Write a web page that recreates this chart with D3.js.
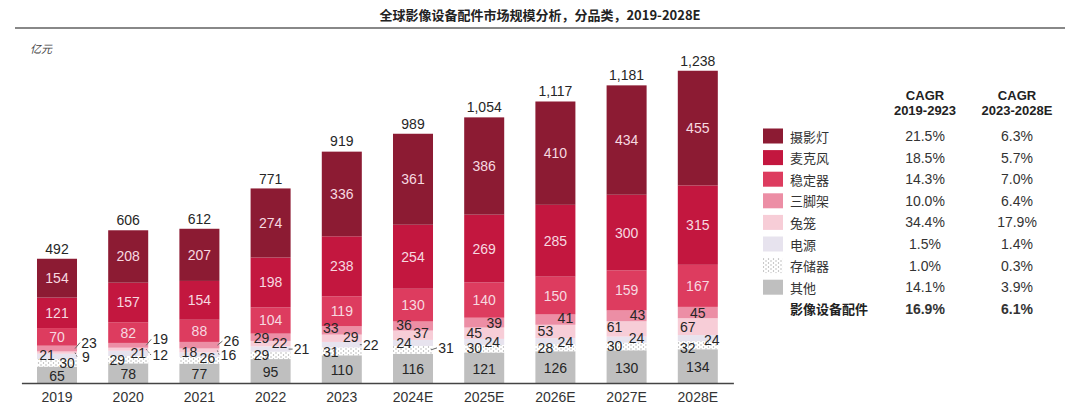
<!DOCTYPE html>
<html>
<head>
<meta charset="utf-8">
<script src="https://cdn.jsdelivr.net/npm/d3@7"></script>
<style>
  body { margin: 0; background: #fff; }
  svg { font-family: "Liberation Sans", Arial, sans-serif; }
  .cjk { font-family: "Noto Sans CJK SC", sans-serif; }
</style>
</head>
<body>
<svg id="chart" width="1080" height="410"></svg>
<script>
// data
const years = ['2019', '2020', '2021', '2022', '2023', '2024E', '2025E', '2026E', '2027E', '2028E']
const seriesNames = ['摄影灯', '麦克风', '稳定器', '三脚架', '兔笼', '电源', '存储器', '其他']
const lights   = [154, 208, 207, 274, 336, 361, 386, 410, 434, 455]
const mics     = [121, 157, 154, 198, 238, 254, 269, 285, 300, 315]
const gimbals  = [70, 82, 88, 104, 119, 130, 140, 150, 159, 167]
const tripods  = [23, 19, 26, 29, 33, 36, 39, 41, 43, 45]
const cages    = [9, 12, 16, 22, 29, 37, 45, 53, 61, 67]
const power    = [21, 21, 18, 21, 22, 24, 24, 24, 24, 24]
const storage  = [30, 29, 26, 29, 31, 31, 30, 28, 30, 32]
const others   = [65, 78, 77, 95, 110, 116, 121, 126, 130, 134]
const totals   = [492, 606, 612, 771, 919, 989, 1054, 1117, 1181, 1238]
const cagr1923 = ['21.5%', '18.5%', '14.3%', '10.0%', '34.4%', '1.5%', '1.0%', '14.1%', '16.9%']
const cagr2328 = ['6.3%', '5.7%', '7.0%', '6.4%', '17.9%', '1.4%', '0.3%', '3.9%', '6.1%']

const valuesBySeries = [lights, mics, gimbals, tripods, cages, power, storage, others]

const colors = {
    '摄影灯': '#8c1b33',
    '麦克风': '#c3173f',
    '稳定器': '#dd3c5f',
    '三脚架': '#ec8ea5',
    '兔笼': '#f7cdd7',
    '电源': '#e7e3ee',
    '存储器': 'url(#dots)',
    '其他': '#bfbfbf'
}

// where the small-segment labels sit: [dx from bar centre, dy from segment middle, leader line]
const smallLabelPos = {
    '三脚架': [[32,-6,1],[32,-6,1],[32,-4,1],[-9,1,0],[-11,-2,0],[-9,-1,0],[10,0,0],[10,-2,0],[11,-1,0],[0,0,0]],
    '兔笼':   [[29,4,1],[32,6,1],[29,5,1],[9,-1,0],[9,-1,0],[8,-2,0],[-10,0,0],[-10,0,0],[-12,-2,0],[-10,0,0]],
    '电源':   [[-10,-1,0],[10,0,0],[-10,-3,0],[31,0,1],[29,0,1],[-9,0,0],[8,0,0],[10,1,0],[10,-2,0],[14,2,0]],
    '存储器': [[10,0,0],[-11,0,0],[8,-2,0],[-9,0,0],[-11,1,0],[33,-2,1],[-10,-1,0],[-10,0,0],[-12,0,0],[-10,3,0]]
}

let table = years.map((y, i) => {
    let row = { year: y }
    seriesNames.forEach((s, k) => row[s] = valuesBySeries[k][i])
    return row
})

const svg = d3.select('#chart')

// dotted fill for 存储器
let pat = svg.append('defs').append('pattern')
    .attr('id', 'dots')
    .attr('width', 5).attr('height', 4)
    .attr('patternUnits', 'userSpaceOnUse')
pat.append('rect').attr('width', 5).attr('height', 4).attr('fill', '#fff')
pat.append('circle').attr('cx', 1).attr('cy', 1).attr('r', 0.7).attr('fill', '#aaa')
pat.append('circle').attr('cx', 3.5).attr('cy', 3).attr('r', 0.7).attr('fill', '#aaa')

// title
svg.append('text')
    .attr('class', 'cjk')
    .attr('x', 540).attr('y', 20)
    .attr('text-anchor', 'middle')
    .attr('font-size', 13).attr('font-weight', 'bold')
    .attr('fill', '#222')
    .text('全球影像设备配件市场规模分析，分品类，2019-2028E')

svg.append('line')
    .attr('x1', 15).attr('x2', 1065)
    .attr('y1', 28).attr('y2', 28)
    .attr('stroke', '#888').attr('stroke-width', 2)

svg.append('text')
    .attr('class', 'cjk')
    .attr('x', 30).attr('y', 53)
    .attr('font-size', 11).attr('font-style', 'italic')
    .attr('fill', '#444')
    .text('亿元')

const xScale = d3.scaleBand()
    .domain(years)
    .range([21.4, 733.4])
    .paddingInner(0.438)
    .paddingOuter(0.219)

const yScale = d3.scaleLinear()
    .domain([0, d3.max(totals)])
    .range([383, 71])

const stack = d3.stack().keys(seriesNames.slice().reverse())
const layers = stack(table)

let g = svg.append('g')

g.selectAll('g.layer')
    .data(layers)
    .enter()
    .append('g')
        .attr('class', 'layer')
        .attr('fill', d => colors[d.key])
    .selectAll('rect')
    .data(d => d)
    .enter()
    .append('rect')
        .attr('x', d => xScale(d.data.year))
        .attr('y', d => yScale(d[1]))
        .attr('width', xScale.bandwidth())
        .attr('height', d => yScale(d[0]) - yScale(d[1]))

// x-axis
let xAxis = svg.append('g')
    .attr('transform', 'translate(0, 383)')
    .call(d3.axisBottom(xScale).tickSize(0).tickPadding(9))
xAxis.select('.domain').attr('stroke', '#444').attr('stroke-width', 1.5)
xAxis.selectAll('text')
    .attr('font-size', 14)
    .attr('font-family', '"Liberation Sans", Arial, sans-serif')
    .attr('fill', '#333')

// labels
let labels = svg.append('g').attr('font-size', 14)

layers.forEach(layer => {
    const key = layer.key
    layer.forEach((d, i) => {
        const cx = xScale(d.data.year) + xScale.bandwidth() / 2
        const mid = (yScale(d[0]) + yScale(d[1])) / 2
        const val = d.data[key]
        if (smallLabelPos[key]) {
            const [dx, dy, leader] = smallLabelPos[key][i]
            const lx = cx + dx, ly = mid + dy
            if (leader) {
                labels.append('line')
                    .attr('x1', cx + xScale.bandwidth() / 2 - 2).attr('y1', mid)
                    .attr('x2', lx - 9).attr('y2', ly)
                    .attr('stroke', '#666').attr('stroke-width', 1)
                    .attr('stroke-dasharray', dy > 0 ? '1.5,1.5' : null)
            }
            labels.append('text')
                .attr('x', lx).attr('y', ly)
                .attr('text-anchor', 'middle')
                .attr('dominant-baseline', 'central')
                .attr('fill', '#262626')
                .text(val)
        } else {
            labels.append('text')
                .attr('x', cx).attr('y', key == '其他' ? mid + 1 : mid)
                .attr('text-anchor', 'middle')
                .attr('dominant-baseline', 'central')
                .attr('fill', key == '其他' ? '#262626' : '#f7d9e0')
                .text(val)
        }
    })
})

// totals above the bars
labels.selectAll('text.total')
    .data(totals)
    .enter()
    .append('text')
        .attr('class', 'total')
        .attr('x', (d, i) => xScale(years[i]) + xScale.bandwidth() / 2)
        .attr('y', d => yScale(d) - 10)
        .attr('text-anchor', 'middle')
        .attr('dominant-baseline', 'central')
        .attr('fill', '#262626')
        .text(d => d3.format(',')(d))

// legend + CAGR table
let legend = svg.append('g')
const rowY = i => 136 + i * 21.6

legend.selectAll('text.head')
    .data([[925, 'CAGR'], [925, '2019-2923'], [1017, 'CAGR'], [1017, '2023-2028E']])
    .enter()
    .append('text')
        .attr('x', d => d[0])
        .attr('y', (d, i) => i % 2 == 0 ? 95 : 110)
        .attr('text-anchor', 'middle')
        .attr('dominant-baseline', 'central')
        .attr('font-size', 13).attr('font-weight', 'bold')
        .attr('fill', '#222')
        .text(d => d[1])

seriesNames.forEach((s, i) => {
    legend.append('rect')
        .attr('x', 763).attr('y', rowY(i) - 7.5)
        .attr('width', 20).attr('height', 15)
        .attr('fill', colors[s])
    legend.append('text')
        .attr('class', 'cjk')
        .attr('x', 790).attr('y', rowY(i))
        .attr('dominant-baseline', 'central')
        .attr('font-size', 13).attr('fill', '#333')
        .text(s)
})

const rowNames = seriesNames.concat(['影像设备配件'])
rowNames.forEach((s, i) => {
    const bold = i == rowNames.length - 1
    if (bold) {
        legend.append('text')
            .attr('class', 'cjk')
            .attr('x', 790).attr('y', rowY(i))
            .attr('dominant-baseline', 'central')
            .attr('font-size', 13).attr('font-weight', 'bold').attr('fill', '#222')
            .text(s)
    }
    legend.append('text')
        .attr('x', 925).attr('y', rowY(i))
        .attr('text-anchor', 'middle')
        .attr('dominant-baseline', 'central')
        .attr('font-size', 14).attr('font-weight', bold ? 'bold' : 'normal')
        .attr('fill', '#333')
        .text(cagr1923[i])
    legend.append('text')
        .attr('x', 1017).attr('y', rowY(i))
        .attr('text-anchor', 'middle')
        .attr('dominant-baseline', 'central')
        .attr('font-size', 14).attr('font-weight', bold ? 'bold' : 'normal')
        .attr('fill', '#333')
        .text(cagr2328[i])
})
</script>
</body>
</html>
